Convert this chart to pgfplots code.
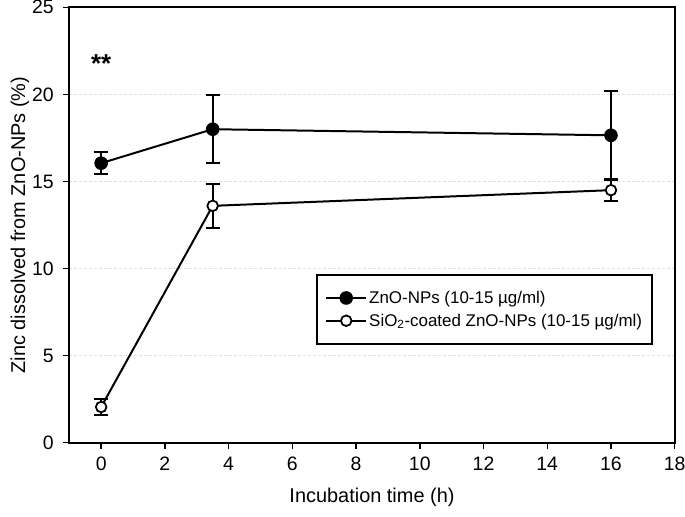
\documentclass[border=0pt]{standalone}
\usepackage{fontspec}
\setmainfont{Liberation Sans}
\usepackage{pgfplots}
\pgfplotsset{compat=1.18}
\begin{document}
\begin{tikzpicture}
\begin{axis}[
  scale only axis,
  width=605.4bp, height=435.4bp,
  xmin=-1, xmax=18, ymin=0, ymax=25,
  xtick={0,2,...,18}, ytick={0,5,...,25},
  xtick pos=bottom, ytick pos=left,
  tick align=outside,
  major tick length=6bp,
  tick style={black, line width=1.5pt},
  axis line style={line width=2pt},
  /pgf/number format/assume math mode=true,
  ticklabel style={font=\fontsize{19.5}{22}\selectfont},
  xticklabel style={anchor=center, yshift=-15bp},
  yticklabel style={anchor=east, xshift=-6bp},
  ymajorgrids,
  grid style={gray!25, densely dashed, line width=0.5pt},
  xlabel={Incubation time (h)},
  ylabel={Zinc dissolved from ZnO-NPs (\%)},
  xlabel style={font=\fontsize{20}{22}\selectfont, at={(axis description cs:0.5,-0.1247)}, anchor=center},
  ylabel style={font=\fontsize{20}{22}\selectfont, at={(axis description cs:-0.0814,0.5)}, rotate=0, anchor=center},
  legend style={at={(axis cs:6.75,9.68)}, anchor=north west, draw=black, line width=2pt,
    font=\fontsize{17}{20}\selectfont, inner xsep=8bp, inner ysep=14bp, row sep=5bp,
    cells={anchor=west}},
  legend image code/.code={\draw[mark repeat=2,mark phase=2,#1] plot coordinates {(0bp,0bp) (20bp,0bp) (40bp,0bp)};},
  legend cell align=left,
]
\addplot[black, line width=2pt, mark=*, mark size=5.8bp, mark options={solid, fill=black},
  error bars/.cd, y dir=both, y explicit,
  error bar style={line width=2pt},
  error mark options={rotate=90, mark size=7bp, line width=2pt}]
  coordinates {
  (0,16.05) +- (0,0.65)
  (3.5,18.0) +- (0,1.95)
  (16,17.65) +- (0,2.55)
  };
\addlegendentry{ZnO-NPs (10-15 µg/ml)}
\addplot[black, line width=2pt, mark=*, mark size=5.3bp, mark options={solid, fill=white, line width=1.8pt},
  error bars/.cd, y dir=both, y explicit,
  error bar style={line width=2pt},
  error mark options={rotate=90, mark size=7bp, line width=2pt}]
  coordinates {
  (0,2.05) +- (0,0.46)
  (3.5,13.6) +- (0,1.26)
  (16,14.5) +- (0,0.65)
  };
\addlegendentry{SiO\textsubscript{2}-coated ZnO-NPs (10-15 µg/ml)}
\node[font=\fontsize{26}{28}\selectfont\bfseries] at (axis cs:0,21.75) {**};
\end{axis}
\pgfresetboundingbox
\path ([shift={(-69.3bp,-74.3bp)}]current axis.south west) rectangle ([shift={(10.3bp,7.3bp)}]current axis.north east);
\end{tikzpicture}
\end{document}
